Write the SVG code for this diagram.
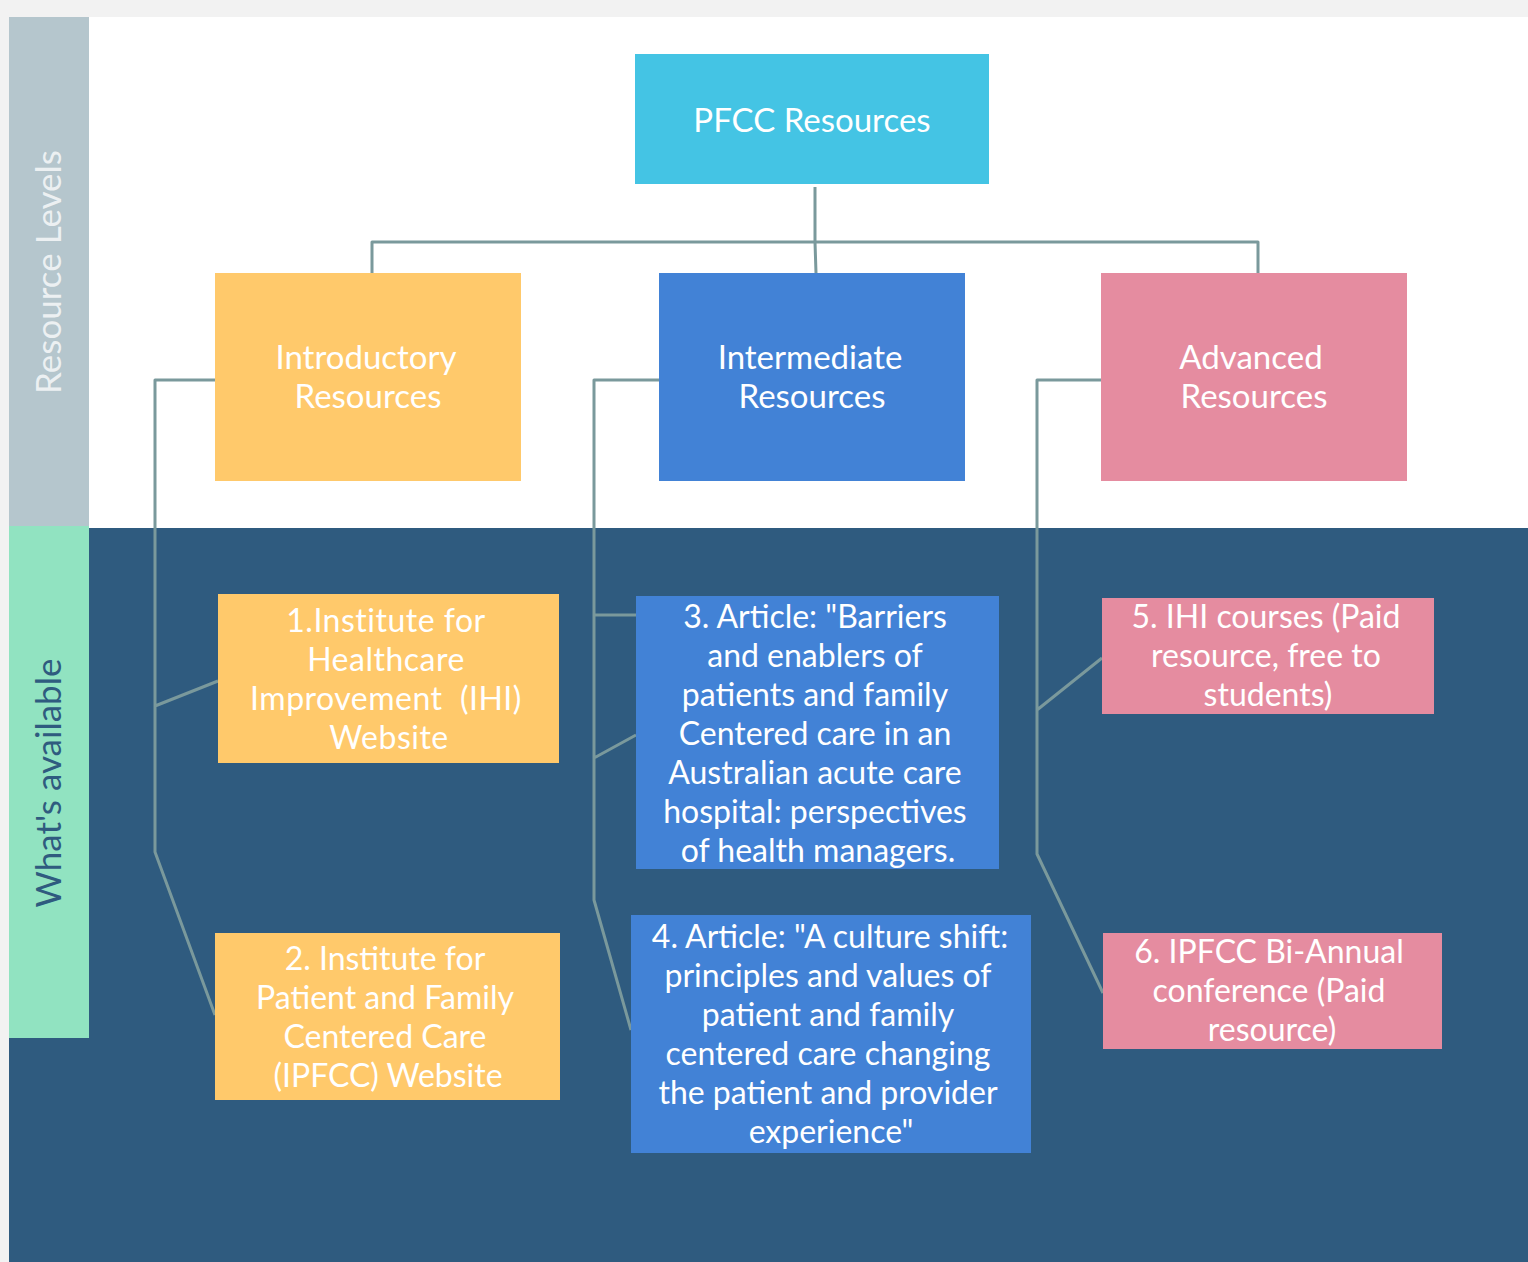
<svg xmlns="http://www.w3.org/2000/svg" width="1528" height="1262" viewBox="0 0 1528 1262">
<style>
.t{font-family:Lato,"Open Sans","Liberation Sans",sans-serif;font-size:32px;fill:#ffffff;text-anchor:middle}
.h{font-size:33px}
.s{letter-spacing:0.5px}
.c{fill:none;stroke:#7a999c;stroke-width:3;stroke-linejoin:round}
</style>
<rect width="1528" height="1262" fill="#f2f2f2"/>
<g id="lanes">
<rect x="89" y="17" width="1439" height="511" fill="#ffffff"/>
<rect x="9" y="528" width="1519" height="734" fill="#2f5b7f"/>
<rect x="9" y="17" width="80" height="509" fill="#b5c6cd"/>
<rect x="9" y="526" width="80" height="512" fill="#91e3c1"/>
<text class="t" transform="translate(61,272) rotate(-90)" fill-opacity="0.75" style="font-size:35px">Resource Levels</text>
<text class="t" transform="translate(61,783) rotate(-90)" style="fill:#2f5b7f;font-size:35px">What's available</text>
</g>
<g id="connectors">
<path class="c" d="M815,187 V242 M372,273 V242 H1258 V273 M815,242 L816,273"/>
<path class="c" d="M219,380 H155 V852 L215,1015 M155,706 L218,681"/>
<path class="c" d="M662,380 H594 V900 L631,1030 M594,615 H636 M594,758 L636,735"/>
<path class="c" d="M1105,380 H1037 V854 L1103,993 M1037,710 L1102,658"/>
</g>
<g id="pfcc">
<rect x="635" y="54" width="354" height="130" fill="#44c4e4"/>
<text class="t h" x="812" y="132">PFCC Resources</text>
</g>
<g id="intro">
<rect x="215" y="273" width="306" height="208" fill="#ffc96b"/>
<text class="t h" x="366" y="369">Introductory</text>
<text class="t h" x="368" y="408">Resources</text>
</g>
<g id="intermediate">
<rect x="659" y="273" width="306" height="208" fill="#4282d6"/>
<text class="t h" x="810" y="369">Intermediate</text>
<text class="t h" x="812" y="408">Resources</text>
</g>
<g id="advanced">
<rect x="1101" y="273" width="306" height="208" fill="#e58ca0"/>
<text class="t h" x="1251" y="369">Advanced</text>
<text class="t h" x="1254" y="408">Resources</text>
</g>
<g id="n1">
<rect x="218" y="594" width="341" height="169" fill="#ffc96b"/>
<text class="t s" x="386" y="632">1.Institute for</text>
<text class="t s" x="386" y="671">Healthcare</text>
<text class="t s" x="386" y="710">Improvement&#160; (IHI)</text>
<text class="t s" x="389" y="749">Website</text>
</g>
<g id="n2">
<rect x="215" y="933" width="345" height="167" fill="#ffc96b"/>
<text class="t" x="385" y="970">2. Institute for</text>
<text class="t" x="385" y="1009">Patient and Family</text>
<text class="t" x="385" y="1048">Centered Care</text>
<text class="t" x="388" y="1087">(IPFCC) Website</text>
</g>
<g id="n3">
<rect x="636" y="596" width="363" height="273" fill="#4282d6"/>
<text class="t" x="815" y="628">3. Article: "Barriers</text>
<text class="t" x="815" y="667">and enablers of</text>
<text class="t" x="815" y="706">patients and family</text>
<text class="t" x="815" y="745">Centered care in an</text>
<text class="t" x="815" y="784">Australian acute care</text>
<text class="t" x="815" y="823">hospital: perspectives</text>
<text class="t" x="818" y="862">of health managers.</text>
</g>
<g id="n4">
<rect x="631" y="915" width="400" height="238" fill="#4282d6"/>
<text class="t" x="830" y="948">4. Article: "A culture shift:</text>
<text class="t" x="828" y="987">principles and values of</text>
<text class="t" x="828" y="1026">patient and family</text>
<text class="t" x="828" y="1065">centered care changing</text>
<text class="t" x="828" y="1104">the patient and provider</text>
<text class="t" x="831" y="1143">experience"</text>
</g>
<g id="n5">
<rect x="1102" y="598" width="332" height="116" fill="#e58ca0"/>
<text class="t" x="1266" y="628">5. IHI courses (Paid</text>
<text class="t" x="1266" y="667">resource, free to</text>
<text class="t" x="1268" y="706">students)</text>
</g>
<g id="n6">
<rect x="1103" y="933" width="339" height="116" fill="#e58ca0"/>
<text class="t" x="1269" y="963">6. IPFCC Bi-Annual</text>
<text class="t" x="1269" y="1002">conference (Paid</text>
<text class="t" x="1272" y="1041">resource)</text>
</g>
</svg>
